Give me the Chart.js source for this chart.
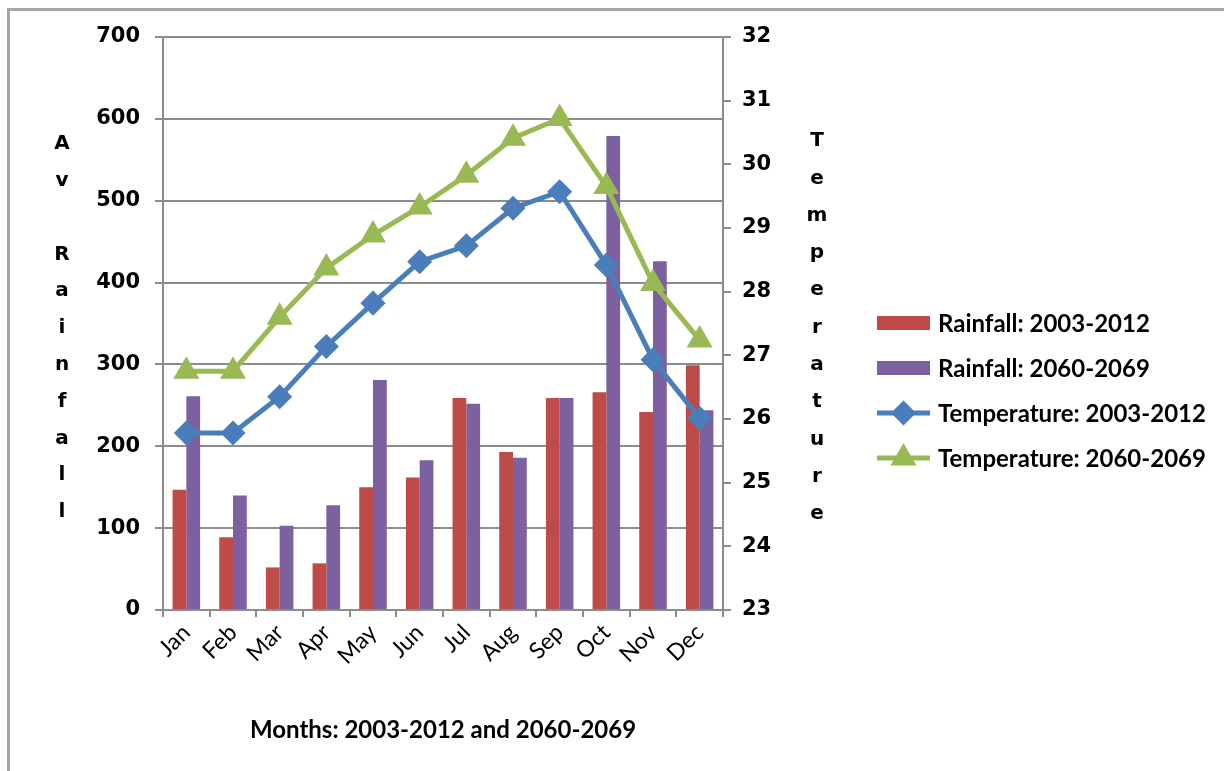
<!DOCTYPE html>
<html>
<head>
<meta charset="utf-8">
<script src="https://cdn.jsdelivr.net/npm/chart.js@4.4.1/dist/chart.umd.min.js"></script>
<style>
  body { margin: 0; background: #fff; }
  #wrap { position: relative; width: 1224px; height: 771px; overflow: hidden; }
  #frame { position: absolute; left: 7px; top: 8px; width: 1300px; height: 900px;
           border-top: 3px solid #a6a6a6; border-left: 3px solid #a6a6a6; }
  #c { position: absolute; left: 0; top: 0; }
</style>
</head>
<body>
<div id="wrap">
  <div id="frame"></div>
  <canvas id="c" width="1224" height="771"></canvas>
</div>
<script>
const months = ["Jan", "Feb", "Mar", "Apr", "May", "Jun", "Jul", "Aug", "Sep", "Oct", "Nov", "Dec"];
const rain2003 = [147, 89, 52, 57, 150, 162, 259, 193, 259, 266, 242, 299];
const rain2060 = [261, 140, 103, 128, 281, 183, 252, 186, 259, 579, 426, 244];
const temp2003 = [25.78, 25.78, 26.35, 27.14, 27.82, 28.47, 28.72, 29.31, 29.57, 28.42, 26.93, 26.01];
const temp2060 = [26.75, 26.75, 27.6, 28.37, 28.89, 29.33, 29.83, 30.41, 30.72, 29.65, 28.13, 27.24];
const leftTitle = "Av Rainfall";
const rightTitle = "Temperature";
const xTitle = "Months: 2003-2012 and 2060-2069";

const tickFont = { family: "'DejaVu Sans'", size: 21, weight: "bold" };
const calibri = "Lato";

// stacked letter titles + legend with line/marker samples
const extras = {
    id: "extras",
    afterDraw(chart) {
        const ctx = chart.ctx;
        ctx.save();
        ctx.fillStyle = "#000";
        ctx.font = "bold 20px 'DejaVu Sans'";
        ctx.textAlign = "center";
        ctx.textBaseline = "middle";
        leftTitle.split("").forEach((ch, i) => {
            ctx.fillText(ch, 62, 144 + i * 36.8);
        });
        rightTitle.split("").forEach((ch, i) => {
            ctx.fillText(ch, 817, 141 + i * 37.3);
        });

        // legend
        const x0 = 877, x1 = 930;
        ctx.textAlign = "left";
        ctx.font = "bold 24px " + calibri;
        chart.data.datasets.forEach((ds, i) => {
            const y = 323 + i * 45;
            if (ds.type === "line") {
                ctx.strokeStyle = ds.borderColor;
                ctx.lineWidth = 5;
                ctx.beginPath();
                ctx.moveTo(x0, y);
                ctx.lineTo(x1, y);
                ctx.stroke();
                ctx.fillStyle = ds.pointBackgroundColor;
                ctx.strokeStyle = ds.pointBackgroundColor;
                Chart.helpers.drawPoint(ctx, {
                    pointStyle: ds.pointStyle,
                    radius: ds.pointRadius,
                    borderWidth: 1
                }, (x0 + x1) / 2, y);
            } else {
                ctx.fillStyle = ds.backgroundColor;
                ctx.fillRect(x0, y - 7, x1 - x0, 14);
            }
            ctx.fillStyle = "#000";
            ctx.fillText(ds.label, 938, y + 1);
        });
        ctx.restore();
    }
};

new Chart(document.getElementById("c"), {
    type: "bar",
    data: {
        labels: months,
        datasets: [
            {
                label: "Rainfall: 2003-2012",
                data: rain2003,
                backgroundColor: "#be4b48",
                yAxisID: "y",
                categoryPercentage: 0.59,
                barPercentage: 1.0,
                order: 2
            },
            {
                label: "Rainfall: 2060-2069",
                data: rain2060,
                backgroundColor: "#7d60a0",
                yAxisID: "y",
                categoryPercentage: 0.59,
                barPercentage: 1.0,
                order: 3
            },
            {
                type: "line",
                label: "Temperature: 2003-2012",
                data: temp2003,
                yAxisID: "y1",
                borderColor: "#4a7ebb",
                backgroundColor: "#4a7ebb",
                pointBackgroundColor: "#4a7ebb",
                pointBorderColor: "#4a7ebb",
                borderWidth: 5,
                pointStyle: "rectRot",
                pointRadius: 9,
                tension: 0,
                order: 1
            },
            {
                type: "line",
                label: "Temperature: 2060-2069",
                data: temp2060,
                yAxisID: "y1",
                borderColor: "#98b954",
                backgroundColor: "#98b954",
                pointBackgroundColor: "#98b954",
                pointBorderColor: "#98b954",
                borderWidth: 5,
                pointStyle: "triangle",
                pointRadius: 10,
                tension: 0,
                order: 0
            }
        ]
    },
    options: {
        responsive: false,
        animation: false,
        layout: { padding: { top: 37, left: 0, right: 441, bottom: 22 } },
        plugins: {
            legend: { display: false },
            tooltip: { enabled: false }
        },
        scales: {
            x: {
                offset: true,
                grid: { display: true, drawOnChartArea: false, offset: true, color: "#8c8c8c", lineWidth: 2, tickLength: 7 },
                border: { color: "#8c8c8c", width: 2 },
                ticks: {
                    color: "#000",
                    font: { family: calibri, size: 23 },
                    maxRotation: 45,
                    minRotation: 45,
                    padding: 2
                },
                title: {
                    display: true,
                    text: xTitle,
                    color: "#000",
                    font: { family: calibri, size: 24, weight: "bold" },
                    padding: { top: 30 }
                },
                afterFit: (s) => { s.height = 139; }
            },
            y: {
                position: "left",
                min: 0,
                max: 700,
                ticks: { stepSize: 100, color: "#000", font: tickFont, padding: 15 },
                grid: { color: "#8c8c8c", lineWidth: 2, tickLength: 8 },
                border: { color: "#8c8c8c", width: 2 },
                afterFit: (s) => { s.width = 163; }
            },
            y1: {
                position: "right",
                min: 23,
                max: 32,
                ticks: { stepSize: 1, color: "#000", font: tickFont, padding: 11 },
                grid: { drawOnChartArea: false, color: "#8c8c8c", lineWidth: 2, tickLength: 8 },
                border: { color: "#8c8c8c", width: 2 },
                afterFit: (s) => { s.width = 60; }
            }
        }
    },
    plugins: [extras]
});
</script>
</body>
</html>
